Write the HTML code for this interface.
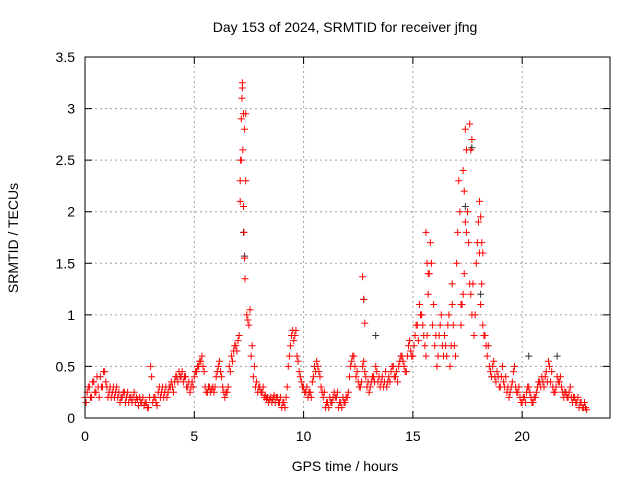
<!DOCTYPE html>
<html><head><meta charset="utf-8">
<style>
body{margin:0;background:#fff;}
svg{display:block;font-family:"Liberation Sans",sans-serif;}
</style></head>
<body>
<svg id="chart" width="640" height="480" viewBox="0 0 640 480">
  <rect x="0" y="0" width="640" height="480" fill="#fff"/>
  <g id="grid"></g>
  <g id="marks"></g>
  <rect x="85" y="57" width="525" height="361" fill="none" stroke="#000" stroke-width="1"/>
  <g id="ticks"></g>
  <text x="345" y="32" font-size="14" text-anchor="middle">Day 153 of 2024, SRMTID for receiver jfng</text>
  <text x="345" y="471" font-size="14" text-anchor="middle">GPS time / hours</text>
  <text transform="translate(18,238) rotate(-90)" font-size="14" text-anchor="middle">SRMTID / TECUs</text>
</svg>
<script>
const xTicks = [0, 5, 10, 15, 20];
const yTicks = [0, 0.5, 1, 1.5, 2, 2.5, 3, 3.5];
const yTickLabels = ["0", "0.5", "1", "1.5", "2", "2.5", "3", "3.5"];
const mainValues = [
0.2,0.25,0.3,0.2,0.35,0.25,0.3,0.4,0.3,0.45,
0.3,0.25,0.2,0.3,0.25,0.2,0.15,0.2,0.25,0.2,
0.15,0.2,0.2,0.15,0.18,0.2,0.15,0.12,0.15,0.1,
0.5,0.15,0.2,0.12,0.3,0.25,0.2,0.3,0.25,0.3,
0.3,0.35,0.4,0.45,0.4,0.35,0.4,0.3,0.25,0.35,
0.4,0.45,0.5,0.55,0.5,0.3,0.25,0.3,0.28,0.25,
0.4,0.5,0.45,0.3,0.2,0.25,0.5,0.6,0.65,0.7,
0.75,2.1,3.2,2.8,1.0,0.9,0.6,0.4,0.3,0.25,
0.3,0.25,0.2,0.18,0.15,0.2,0.18,0.15,0.2,0.15,
0.1,0.15,0.2,0.5,0.7,0.85,0.8,0.6,0.45,0.35,
0.3,0.25,0.2,0.25,0.35,0.5,0.55,0.45,0.3,0.2,
0.1,0.15,0.2,0.15,0.25,0.2,0.1,0.15,0.2,0.15,
0.2,0.4,0.55,0.6,0.4,0.35,0.3,0.5,0.45,0.3,
0.25,0.35,0.4,0.5,0.35,0.3,0.4,0.35,0.3,0.4,
0.45,0.5,0.4,0.35,0.55,0.6,0.5,0.45,0.7,0.65,
0.6,0.8,0.9,1.1,1.0,0.8,0.6,1.2,1.7,0.9,
0.7,0.5,0.8,1.0,0.6,0.7,0.9,0.5,1.1,0.7,
1.5,2.3,0.9,1.2,2.8,2.0,1.3,1.0,0.8,1.5,
1.9,1.1,0.9,0.8,0.6,0.5,0.4,0.55,0.35,0.4,
0.3,0.5,0.3,0.25,0.2,0.3,0.45,0.3,0.25,0.2,
0.15,0.2,0.25,0.3,0.2,0.15,0.2,0.3,0.35,0.4,
0.3,0.45,0.55,0.35,0.3,0.25,0.4,0.35,0.3,0.2,
0.25,0.2,0.3,0.15,0.2,0.15,0.1,0.15,0.1,0.1];
const secondValues = [
0.15,0.3,0.2,0.35,0.25,0.4,0.2,0.3,0.45,0.35,
0.2,0.3,0.25,0.2,0.3,0.25,0.2,0.25,0.15,0.25,
0.2,0.15,0.25,0.2,0.12,0.15,0.2,0.15,0.1,0.2,
0.4,0.2,0.15,0.25,0.2,0.3,0.25,0.2,0.3,0.35,
0.25,0.4,0.35,0.4,0.45,0.4,0.3,0.35,0.3,0.3,
0.45,0.5,0.55,0.6,0.45,0.25,0.3,0.25,0.3,0.3,
0.45,0.55,0.4,0.25,0.25,0.3,0.45,0.55,0.7,0.65,
0.8,2.5,2.95,2.3,0.95,1.05,0.7,0.5,0.35,0.3,
0.25,0.3,0.22,0.2,0.18,0.15,0.22,0.2,0.15,0.2,
0.15,0.1,0.3,0.6,0.8,0.75,0.85,0.55,0.4,0.3,
0.25,0.3,0.25,0.2,0.4,0.45,0.5,0.4,0.25,0.25,
0.15,0.1,0.15,0.2,0.2,0.25,0.15,0.1,0.15,0.2,
0.25,0.5,0.6,0.5,0.45,0.3,0.35,0.55,0.4,0.35,
0.3,0.4,0.35,0.45,0.4,0.35,0.3,0.45,0.35,0.35,
0.5,0.4,0.45,0.5,0.6,0.55,0.45,0.6,0.75,0.6,
0.7,0.9,0.75,1.0,0.9,0.7,0.8,1.4,1.5,1.1,
0.8,0.6,0.9,0.7,0.8,0.6,1.0,0.7,0.9,0.6,
1.8,2.0,1.1,1.4,2.6,1.7,1.2,1.3,1.0,1.7,
1.6,1.3,0.8,0.7,0.7,0.45,0.5,0.4,0.45,0.3,
0.4,0.35,0.4,0.3,0.25,0.35,0.5,0.25,0.3,0.15,
0.2,0.15,0.3,0.25,0.15,0.2,0.25,0.35,0.3,0.35,
0.4,0.35,0.5,0.45,0.25,0.3,0.35,0.4,0.25,0.25,
0.2,0.25,0.2,0.2,0.15,0.2,0.15,0.1,0.15,0.08];
const spikeTimes = [7.1,7.12,7.15,7.18,7.2,7.22,7.25,7.27,7.3,7.32,7.35,12.7,12.75,12.8,15.6,15.65,15.7,17.3,17.35,17.4,17.45,17.6,17.65,17.7,18.05,18.1,18.15,18.2,16.8,17.2];
const spikeValues = [2.3,2.5,2.9,3.1,3.25,2.6,2.05,1.8,1.55,1.35,2.95,1.37,1.15,0.92,1.8,1.5,1.4,2.4,2.2,1.9,1.8,2.85,2.6,2.7,2.1,1.95,1.7,1.6,1.3,1.1];
const darkTimes = [7.25,7.3,12.75,17.4,17.7,18.1,20.3,13.3,21.6];
const darkValues = [1.8,1.57,1.15,2.05,2.62,1.2,0.6,0.8,0.6];

const X0=85, X1=609.6, Y0=418, Y1=57;
function xs(h){return X0+(h/24)*(X1-X0);}
function ys(v){return Y0-(v/3.5)*(Y0-Y1);}
const NS="http://www.w3.org/2000/svg";
const grid=document.getElementById('grid'), ticks=document.getElementById('ticks'), marks=document.getElementById('marks');
function mk(tag,attrs,parent){const e=document.createElementNS(NS,tag);for(const k in attrs)e.setAttribute(k,attrs[k]);parent.appendChild(e);return e;}

yTicks.forEach((v,i)=>{
  const y=ys(v);
  if(i>0&&i<yTicks.length-1){
    const g=mk('line',{x1:X0,x2:X1,y1:y,y2:y,stroke:'#a0a0a0','stroke-dasharray':'2,3','stroke-width':1},grid);
    
    
  }
  const t=mk('path',{d:`M${X0} ${y}h7M${X1} ${y}h-7`,stroke:'#000'},ticks);
  
  
  const l=mk('text',{x:X0-10,y:y+5,'font-size':14,'text-anchor':'end'},ticks);
  l.textContent=yTickLabels[i];
  
  
});
xTicks.forEach(h=>{
  const x=xs(h);
  if(h>0){
    const g=mk('line',{x1:x,x2:x,y1:Y0,y2:Y1,stroke:'#a0a0a0','stroke-dasharray':'2,3','stroke-width':1},grid);
    
    
  }
  const t=mk('path',{d:`M${x} ${Y0}v-7M${x} ${Y1}v7`,stroke:'#000'},ticks);
  
  
  const l=mk('text',{x:x,y:Y0+23,'font-size':14,'text-anchor':'middle'},ticks);
  l.textContent=String(h);
  
  
});

function plus(h,v,color,name){
  const x=xs(h),y=ys(v);
  const p=mk('path',{d:`M${x-3.5} ${y}h7M${x} ${y-3.5}v7`,stroke:color,'stroke-width':1},marks);
  
  
}
darkTimes.forEach((h,i)=>plus(h,darkValues[i],'#333','dark-point'));
mainValues.forEach((v,i)=>plus(i*0.1,v,'#ff0000','srmtid-point'));
secondValues.forEach((v,i)=>plus(i*0.1+0.05,v,'#ff0000','srmtid-point'));
spikeTimes.forEach((h,i)=>plus(h,spikeValues[i],'#ff0000','spike-point'));
</script>
</body></html>
